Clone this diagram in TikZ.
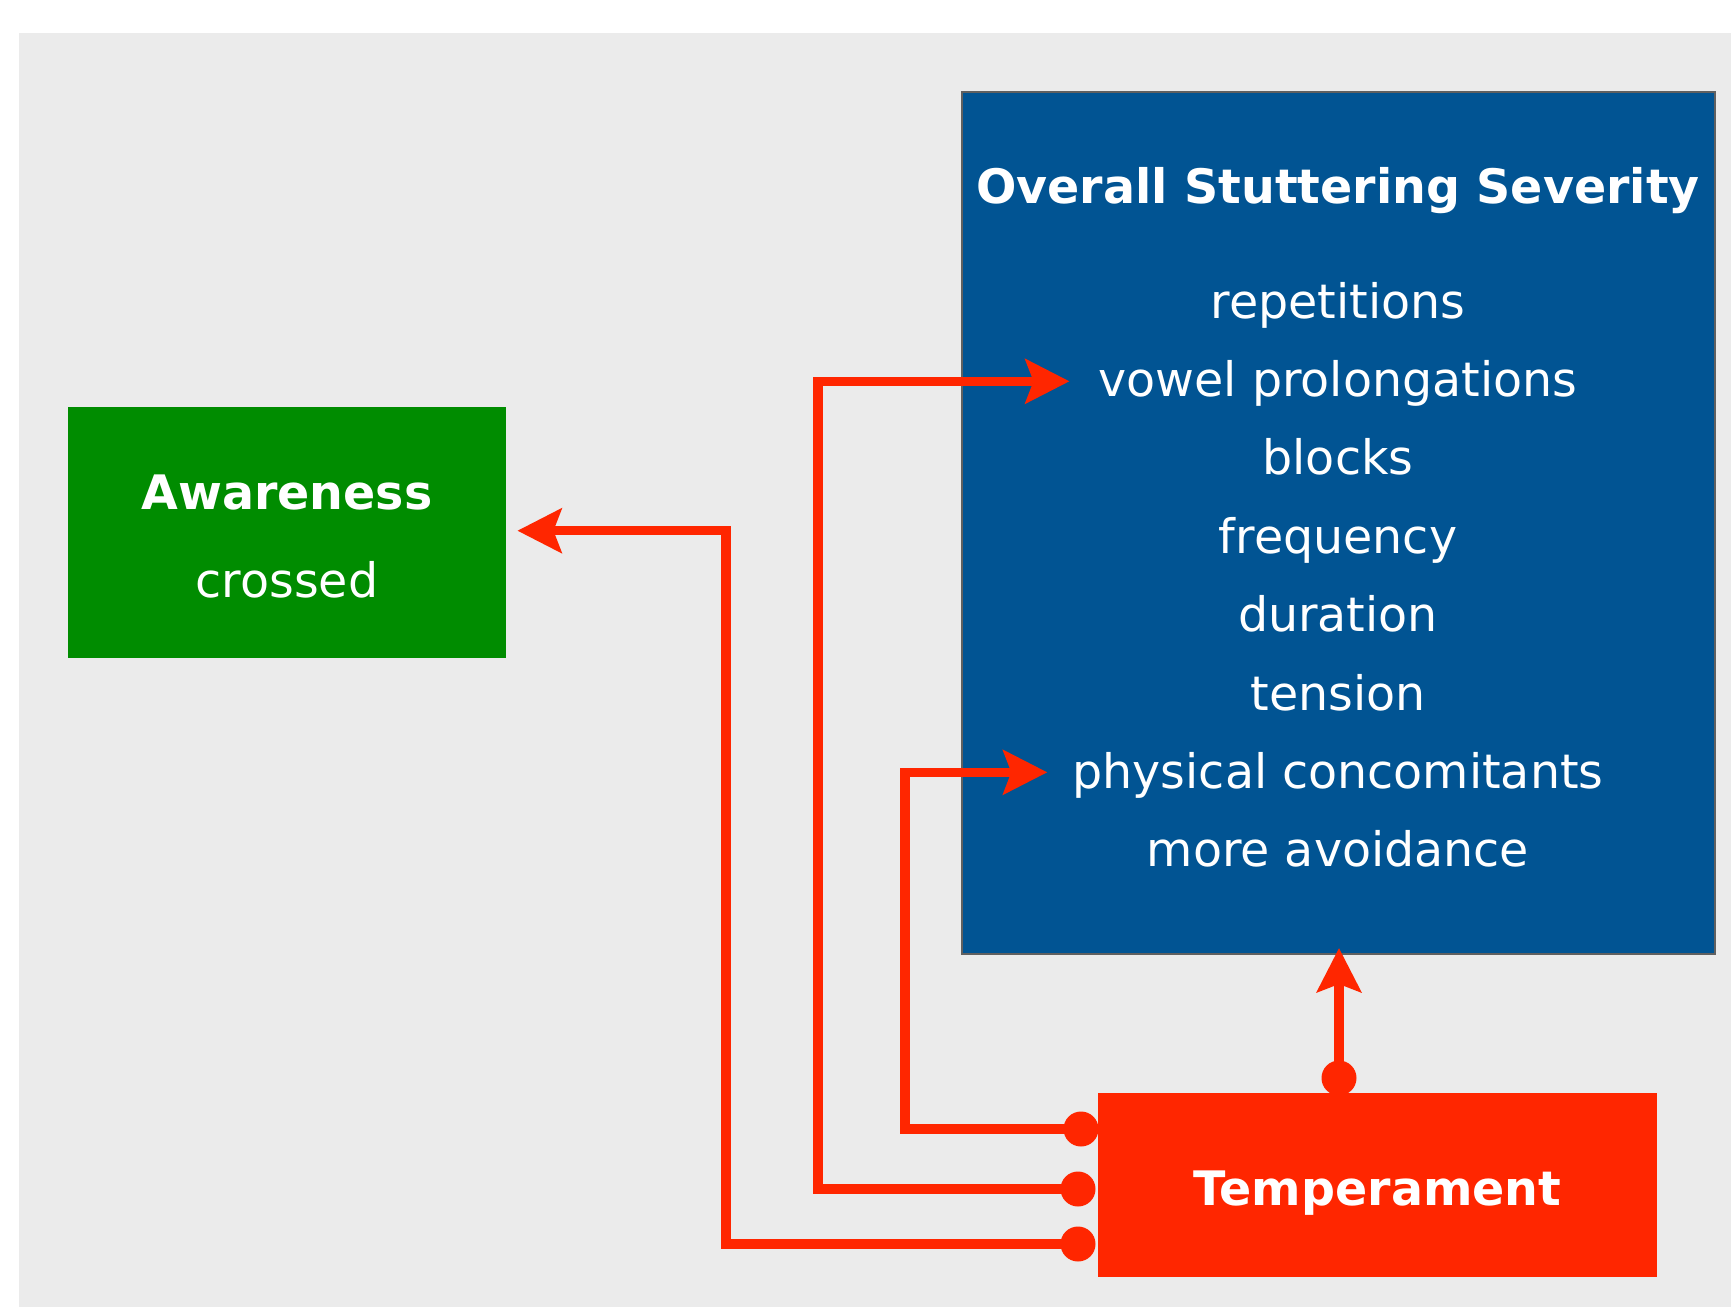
\documentclass[tikz,border=0pt]{standalone}
\usepackage{fontspec}
\setmainfont{DejaVu Sans}
\usetikzlibrary{arrows.meta}
\definecolor{bgc}{HTML}{EBEBEB}
\definecolor{blu}{HTML}{015493}
\definecolor{grn}{HTML}{008C00}
\definecolor{rd}{HTML}{FF2600}
\definecolor{bord}{HTML}{606060}
\begin{document}
\begin{tikzpicture}[x=1pt,y=-1pt,
  txt/.style={text=white,font=\fontsize{47.5}{57}\selectfont,inner sep=0pt,anchor=base},
  btxt/.style={text=white,font=\fontsize{47.5}{57}\selectfont\bfseries,inner sep=0pt,anchor=base},
  conn/.style={draw=rd,line width=9.5pt},
  arr/.style={conn,-{Stealth[length=44pt,width=44pt,inset=8pt]}},
  dotn/.style={circle,fill=rd,inner sep=0pt,minimum size=35pt},
  boxn/.style={inner sep=0pt,anchor=north west}]
\useasboundingbox (0,0) rectangle (1731,1307);
\fill[white] (0,0) rectangle (1731,1307);
\fill[bgc] (19,33) rectangle (1731,1307);
% boxes
\node[boxn,fill=blu,draw=bord,line width=2pt,minimum width=753pt,minimum height=862pt] (sev) at (961,91) {};
\node[boxn,fill=grn,minimum width=438pt,minimum height=251pt] (aw) at (68,407) {};
\node[boxn,fill=rd,minimum width=559pt,minimum height=184pt] (tem) at (1098,1093) {};
% texts
\node[btxt] (title) at (1338,203) {Overall Stuttering Severity};
\node[txt] (rep) at (1338,318) {repetitions};
\node[txt] (vp) at (1338,396.4) {vowel prolongations};
\node[txt] (bl) at (1338,474.8) {blocks};
\node[txt] (fr) at (1338,553.2) {frequency};
\node[txt] (du) at (1338,631.6) {duration};
\node[txt] (te) at (1338,710) {tension};
\node[txt] (pc) at (1338,788.4) {physical concomitants};
\node[txt] (ma) at (1338,866.8) {more avoidance};
\node[btxt] (awt) at (287,509) {Awareness};
\node[txt] (cr) at (287,597) {crossed};
\node[btxt] (tt) at (1377.5,1205) {Temperament};
% dots
\node[dotn] (d0) at (1339,1078) {};
\node[dotn] (d1) at (1081,1129) {};
\node[dotn] (d2) at (1078,1189) {};
\node[dotn] (d3) at (1078,1244) {};
% connectors
\draw[arr,shorten >=-7pt] (d0.center) -- (d0.center |- sev.south);
\draw[arr] (d1.center) -- ++(-176,0) |- ([xshift=-25pt,yshift=3pt]pc.west);
\draw[arr] (d2.center) -- ++(-260,0) |- ([xshift=-29pt,yshift=2pt]vp.west);
\draw[arr] (d3.center) -- ++(-352,0) |- ([xshift=11pt,yshift=2pt]aw.east);
\end{tikzpicture}
\end{document}
